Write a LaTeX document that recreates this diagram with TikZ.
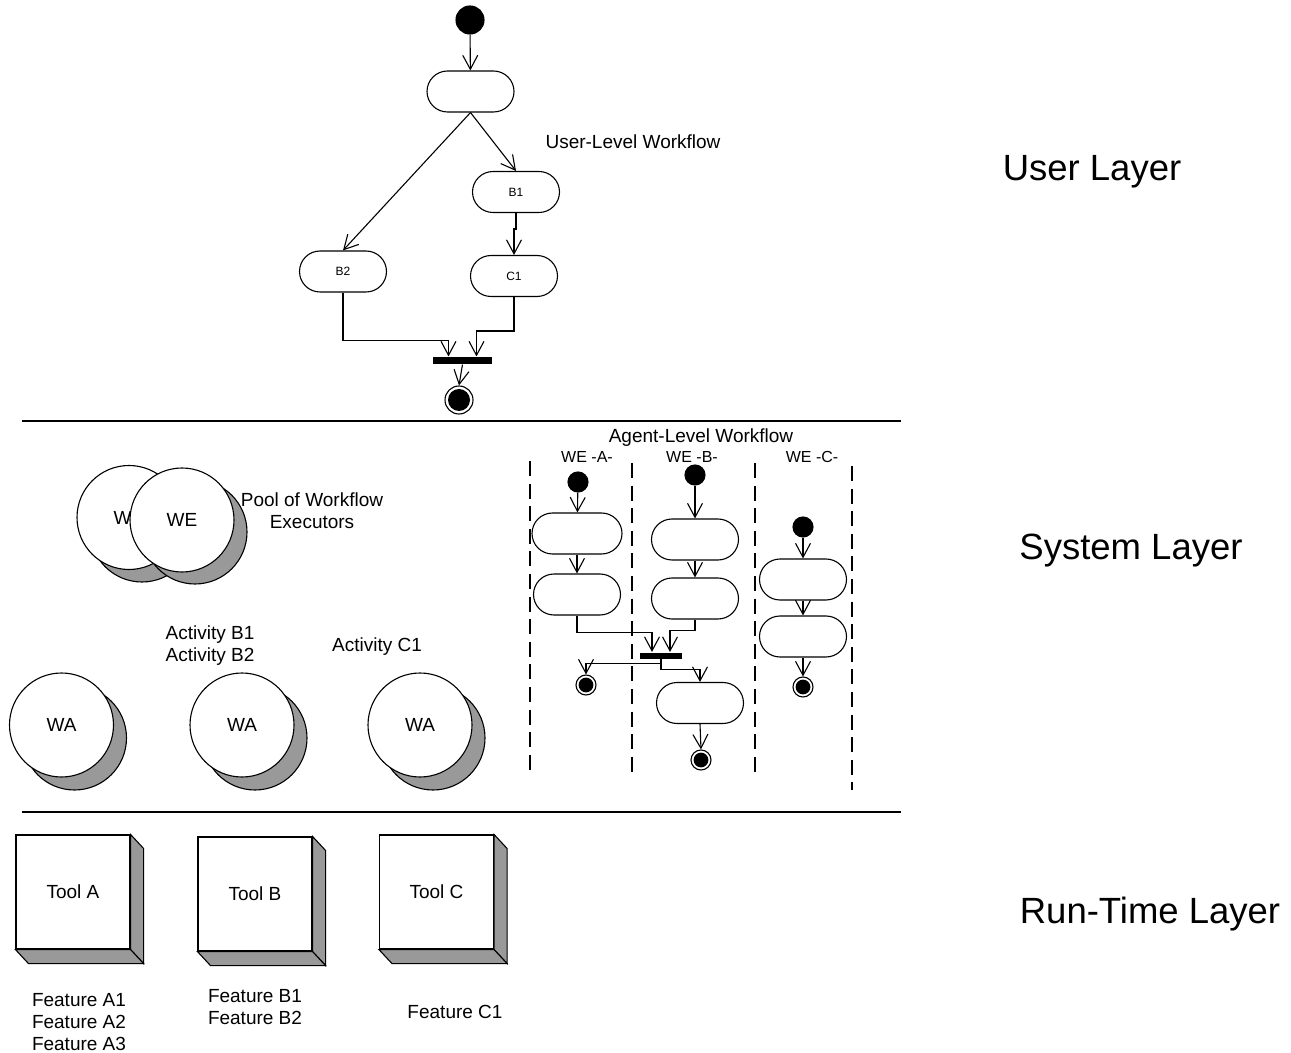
\documentclass[tikz,border=0pt]{standalone}
\usepackage{fontspec}
\setmainfont{Liberation Sans}
\usetikzlibrary{arrows.meta,shapes.misc,calc}
\begin{document}
\begin{tikzpicture}[x=0.5pt,y=-0.5pt,line width=0.55pt,
  every node/.style={inner sep=0pt},
  big/.style={font=\fontsize{18.25pt}{22pt}\selectfont},
  mid/.style={font=\fontsize{9.5pt}{11pt}\selectfont},
  act/.style={draw,rounded rectangle,fill=white,minimum width=43.5pt,minimum height=20.5pt,
    font=\fontsize{6pt}{7pt}\selectfont},
  startdot/.style={circle,draw,fill=black,minimum size=#1},
  enddot/.style 2 args={circle,draw,fill=white,minimum size=#1,
    path picture={\fill[black] (path picture bounding box.center) circle[radius=#2];}},
  syncbar/.style 2 args={rectangle,fill=black,minimum width=#1,minimum height=#2},
  arr/.style={-{Straight Barb[length=7pt,width=7.5pt]}},
  lane/.style={dash pattern=on 7.5pt off 3.8pt},
  shade/.style={draw,fill=black!40},
  orb/.style={circle,draw,fill=white,minimum size=52pt,mid},
  toolface/.style={rectangle,draw,fill=white,minimum width=57pt,minimum height=57pt,mid}]
\useasboundingbox (0,0) rectangle (1291,1053);

% layer separators
\draw (22,421) -- (901,421);
\draw (22,812) -- (901,812);

% layer titles
\node[big] (tUser) at (1092,172) {User Layer};
\node[big] (tSys) at (1131,551) {System Layer};
\node[big] (tRun) at (1150,914) {Run-Time Layer};

% ---------- user-level workflow ----------
\node[startdot=14pt] (ustart) at (470,20) {};
\node[act] (utop) at (470.5,91.5) {};
\node[act] (uB1) at (516,192) {B1};
\node[act] (uC1) at (514,276) {C1};
\node[act] (uB2) at (343,271.5) {B2};
\node[syncbar={29.5pt}{3.5pt}] (ubar) at (462.5,360.5) {};
\node[enddot={14pt}{5.5pt}] (uend) at (459,400) {};
\node[mid] (ulabel) at (633,142) {User-Level Workflow};

\draw[arr] (ustart) -- (utop);
\draw[arr] (utop.south) -- (uB1.north);
\draw[arr] (utop.south) -- (uB2.north);
\draw[arr] (uB1.south) -- ++(0,16) -| (uC1.north);
\draw[arr] (uB2.south) -- ++(0,48) -| ($(ubar.north)+(-14,0)$);
\draw[arr] (uC1.south) -- ++(0,34) -| ($(ubar.north)+(14,0)$);
\draw[arr] (ubar.south) -- (uend.north);

% ---------- system layer: executors and agents ----------
\fill[shade] (142,530) circle[radius=26pt];
\node[orb] (we1) at (129,517.5) {WE};
\fill[shade] (195,532) circle[radius=26pt];
\node[orb] (we2) at (182,520) {WE};
\node[mid,align=center] (pool) at (312,510.5) {Pool of Workflow\\Executors};

\node[mid,align=left] (actB) at (210,646) {Activity B1\\Activity B2};
\node[mid] (actC) at (377,647) {Activity C1};

\fill[shade] (74.5,738) circle[radius=26pt];
\node[orb] (wa1) at (61.5,725) {WA};
\fill[shade] (255,738) circle[radius=26pt];
\node[orb] (wa2) at (242,725) {WA};
\fill[shade] (433,738) circle[radius=26pt];
\node[orb] (wa3) at (420,725) {WA};

% ---------- agent-level workflow ----------
\node[mid] (alabel) at (701,438) {Agent-Level Workflow};
\node[font=\fontsize{8pt}{9pt}\selectfont] (laneA) at (587,457) {WE -A-};
\node[font=\fontsize{8pt}{9pt}\selectfont] (laneB) at (692,457) {WE -B-};
\node[font=\fontsize{8pt}{9pt}\selectfont] (laneC) at (812,457) {WE -C-};

\draw[lane] (530,461) -- (530,776);
\draw[lane] (632,463) -- (632,778);
\draw[lane] (755,463) -- (755,778);
\draw[lane] (852,466) -- (852,790);

% lane A
\node[startdot=10pt] (aAs) at (578,482) {};
\node[act,minimum width=45pt] (aA1) at (577,533.5) {};
\node[act] (aA2) at (577,594.5) {};
\node[enddot={10pt}{3.7pt}] (aAe) at (586,685) {};
% lane B
\node[startdot=10pt] (aBs) at (695,475) {};
\node[act] (aB1) at (695,539.5) {};
\node[act] (aB2) at (695,598.5) {};
\node[syncbar={21pt}{3pt}] (abar) at (661,655.5) {};
\node[act] (aB3) at (700,703) {};
\node[enddot={10pt}{3.7pt}] (aBe) at (701,760) {};
% lane C
\node[startdot=10pt] (aCs) at (803,527) {};
\node[act] (aC1) at (803,579.5) {};
\node[act] (aC2) at (803,636.5) {};
\node[enddot={10pt}{3.7pt}] (aCe) at (803,687) {};

\draw[arr] (aAs) -- (aA1);
\draw[arr] (aA1) -- (aA2);
\draw[arr] (aA2.south) -- ++(0,17) -| ($(abar.north)+(-9,0)$);
\draw[arr] (aBs) -- (aB1);
\draw[arr] (aB1) -- (aB2);
\draw[arr] (aB2.south) -- ++(0,11) -| ($(abar.north)+(9,0)$);
\draw[arr] (abar.south) -- ++(0,4.5) -| (aAe.north);
\draw[arr] (abar.south) -- ++(0,10) -| (aB3.north);
\draw[arr] (aB3.south) -- (aBe.north);
\draw[arr] (aCs) -- (aC1);
\draw[arr] (aC1) -- (aC2);
\draw[arr] (aC2) -- (aCe);

% ---------- run-time layer: tools ----------
\node[toolface] (toolA) at (73,892) {Tool A};
\node[toolface] (toolB) at (255,894) {Tool B};
\node[toolface] (toolC) at (436.5,892) {Tool C};
\foreach \t in {toolA,toolB,toolC}{
  \filldraw[shade] (\t.north east) -- ++(13,14) -- ($(\t.south east)+(13,14)$)
    -- (\t.south east) -- cycle;
  \filldraw[shade] (\t.south west) -- ++(13,14) -- ($(\t.south east)+(13,14)$)
    -- (\t.south east) -- cycle;
}

\node[mid,align=left] (featA) at (79,1022.5) {Feature A1\\Feature A2\\Feature A3};
\node[mid,align=left] (featB) at (255,1007) {Feature B1\\Feature B2};
\node[mid] (featC) at (455,1012) {Feature C1};
\end{tikzpicture}
\end{document}
